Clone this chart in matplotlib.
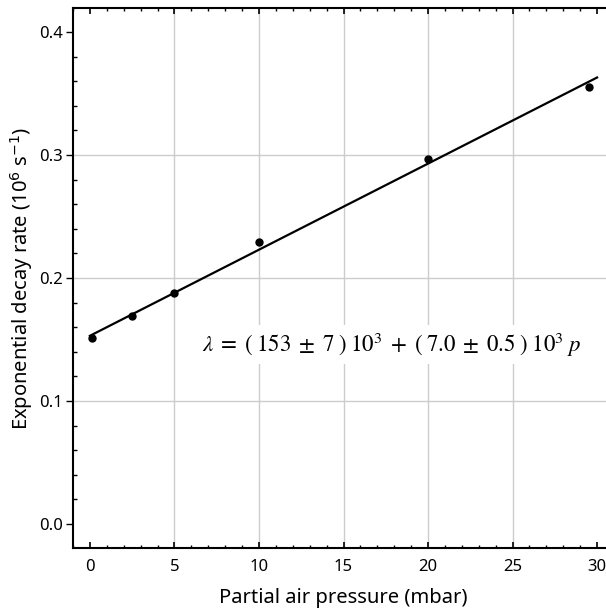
import matplotlib
matplotlib.use("Agg")
import matplotlib.pyplot as plt
from matplotlib.ticker import MultipleLocator, FormatStrFormatter
import numpy as np

# measured points (pressure in mbar, rate in 10^6 s^-1)
pressure = [0.1, 2.5, 5.0, 10.0, 20.0, 29.5]
decay_rate = [0.151, 0.169, 0.188, 0.229, 0.297, 0.355]

# linear fit from the annotation
fit_intercept = 0.153
fit_slope = 0.0070
fit_range = [0.0, 30.0]

plt.rcParams['font.family'] = ['Noto Sans', 'DejaVu Sans']

fig = plt.figure(figsize=(6.06, 6.11), dpi=100)
ax = fig.add_axes([73/606, 1 - 548/611, 541/606, 540/611])

ax.set_xlim(-1.0, 31.0)
ax.set_ylim(-0.0195, 0.4195)

p_fit = np.array(fit_range)
ax.plot(p_fit, fit_intercept + fit_slope * p_fit, color='black', lw=1.6, zorder=3)
ax.plot(pressure, decay_rate, 'o', color='black', ms=5, zorder=4)

eq = (r'$\lambda \;=\; (\;153 \;\pm\; 7\;)\;10^3 \;+\; '
      r'(\;7.0 \;\pm\; 0.5\;)\;10^3\;p$')
ax.text(17.84, 0.146, eq, fontsize=16.5, ha='center', va='center', math_fontfamily='stix',
        bbox=dict(facecolor='white', edgecolor='none', pad=4), zorder=5)

ax.xaxis.set_major_locator(MultipleLocator(5))
ax.xaxis.set_minor_locator(MultipleLocator(1))
ax.yaxis.set_major_locator(MultipleLocator(0.1))
ax.yaxis.set_minor_locator(MultipleLocator(0.02))
ax.yaxis.set_major_formatter(FormatStrFormatter('%.1f'))

ax.spines['right'].set_visible(False)
for s in ['left', 'bottom', 'top']:
    ax.spines[s].set_linewidth(1.5)

ax.tick_params(axis='x', which='both', direction='in', top=True, labelsize=12, pad=8)
ax.tick_params(axis='x', which='major', length=4.5, width=1.2)
ax.tick_params(axis='x', which='minor', length=2.5, width=1.0)
ax.tick_params(axis='y', which='major', direction='out', length=5, width=1.0, labelsize=12, pad=2)
ax.tick_params(axis='y', which='minor', direction='in', length=3, width=1.0)

# grid only on interior major ticks
for v in [5, 10, 15, 20, 25]:
    ax.axvline(v, color='#cccccc', lw=1.0, zorder=1)
for v in [0.1, 0.2, 0.3]:
    ax.axhline(v, color='#cccccc', lw=1.0, zorder=1)

ax.set_xlabel('Partial air pressure (mbar)', fontsize=14.5, labelpad=9)
ax.set_ylabel(r'Exponential decay rate (10$^6$ s$^{-1}$)', fontsize=14.5, labelpad=3,
              math_fontfamily='dejavusans')

fig.savefig('out.png', dpi=100)
